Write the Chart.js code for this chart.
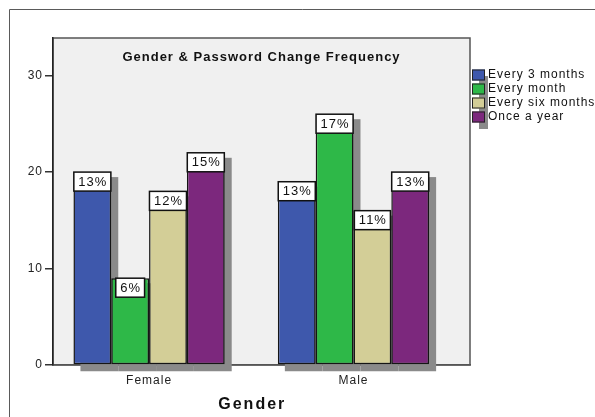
<!DOCTYPE html>
<html>
<head>
<meta charset="utf-8">
<script src="https://cdn.jsdelivr.net/npm/chart.js@4/dist/chart.umd.min.js"></script>
<style>
  html, body { margin: 0; padding: 0; background: #fff; }
  canvas { display: block; }
</style>
</head>
<body>
<canvas id="pwChart" width="595" height="417"></canvas>
<script>
(function () {
    // counts per gender for each answer
    var categories = ['Female', 'Male'];
    var seriesNames = ['Every 3 months', 'Every month', 'Every six months', 'Once a year'];
    var every3Months = [20, 19];
    var everyMonth = [9, 26];
    var everySixMonths = [18, 16];
    var onceAYear = [22, 20];
    var yTicks = [0, 10, 20, 30];
    var seriesColors = ['#3e58ac', '#2eb848', '#d3ce97', '#7c287d'];

    var seriesValues = [every3Months, everyMonth, everySixMonths, onceAYear];
    var grandTotal = 0;
    seriesValues.forEach(function (s) {
        s.forEach(function (v) { grandTotal += v; });
    });

    var FONT = '"Liberation Sans", Arial, sans-serif';
    var SHADOW = '#8a8a8a';

    Chart.defaults.font.family = FONT;
    Chart.defaults.font.size = 12;
    Chart.defaults.color = '#222';

    var datasets = seriesNames.map(function (name, i) {
        return {
            label: name,
            data: seriesValues[i].map(function (v, j) { return { x: j, y: v }; }),
            backgroundColor: seriesColors[i],
            borderColor: '#151515',
            borderWidth: 1.5,
            borderSkipped: false,
            barPercentage: 1,
            categoryPercentage: 0.74
        };
    });

    // plot panel, outer frame and letter spacing for all text
    var backdrop = {
        id: 'backdrop',
        beforeDraw: function (chart) {
            var ctx = chart.ctx;
            var a = chart.chartArea;
            ctx.letterSpacing = '1px';
            ctx.save();
            ctx.strokeStyle = '#5a5a5a';
            ctx.lineWidth = 1;
            ctx.beginPath();
            ctx.moveTo(9.5, 417);
            ctx.lineTo(9.5, 9.5);
            ctx.lineTo(595, 9.5);
            ctx.stroke();

            ctx.fillStyle = '#f0f0f0';
            ctx.fillRect(a.left, a.top, a.right - a.left, a.bottom - a.top);
            ctx.strokeStyle = '#555';
            ctx.lineWidth = 1.5;
            ctx.strokeRect(a.left, a.top, a.right - a.left, a.bottom - a.top);

            ctx.fillStyle = '#111';
            ctx.font = 'bold 13px ' + FONT;
            ctx.textAlign = 'center';
            ctx.textBaseline = 'middle';
            ctx.fillText('Gender & Password Change Frequency', (a.left + a.right) / 2, 57);
            ctx.restore();
        }
    };

    // drop shadows behind each bar
    var barShadows = {
        id: 'barShadows',
        beforeDatasetsDraw: function (chart) {
            var ctx = chart.ctx;
            ctx.save();
            ctx.fillStyle = SHADOW;
            chart.data.datasets.forEach(function (ds, i) {
                chart.getDatasetMeta(i).data.forEach(function (bar) {
                    var p = bar.getProps(['x', 'y', 'base', 'width'], true);
                    ctx.fillRect(p.x - p.width / 2 + 7, p.y + 5, p.width, p.base - p.y + 2);
                });
            });
            ctx.restore();
        }
    };

    // percent boxes sitting inside the top of each bar
    var percentBoxes = {
        id: 'percentBoxes',
        afterDatasetsDraw: function (chart) {
            var ctx = chart.ctx;
            ctx.save();
            ctx.font = '13px ' + FONT;
            ctx.textAlign = 'center';
            ctx.textBaseline = 'middle';
            chart.data.datasets.forEach(function (ds, i) {
                chart.getDatasetMeta(i).data.forEach(function (bar, j) {
                    var p = bar.getProps(['x', 'y'], true);
                    var txt = Math.round(seriesValues[i][j] / grandTotal * 100) + '%';
                    var w = ctx.measureText(txt).width + 8;
                    var h = 19;
                    ctx.fillStyle = '#fff';
                    ctx.fillRect(p.x - w / 2, p.y, w, h);
                    ctx.strokeStyle = '#111';
                    ctx.lineWidth = 1.5;
                    ctx.strokeRect(p.x - w / 2, p.y, w, h);
                    ctx.fillStyle = '#111';
                    ctx.fillText(txt, p.x + 0.5, p.y + h / 2 + 0.5);
                });
            });
            ctx.restore();
        }
    };

    // legend to the right of the plot, and the x axis title
    var sideLegend = {
        id: 'sideLegend',
        afterDraw: function (chart) {
            var ctx = chart.ctx;
            var x0 = 472, rowH = 14, firstY = 75, sq = 13;
            var n = chart.data.datasets.length;
            ctx.save();
            ctx.fillStyle = SHADOW;
            ctx.fillRect(x0 + 7, firstY - 5 + 6, 9, (n - 1) * rowH + 11);
            ctx.font = '12px ' + FONT;
            ctx.textBaseline = 'middle';
            ctx.textAlign = 'left';
            chart.data.datasets.forEach(function (ds, i) {
                var cy = firstY + i * rowH;
                ctx.fillStyle = ds.backgroundColor;
                ctx.fillRect(x0, cy - 5.5, sq, 11);
                ctx.strokeStyle = '#222';
                ctx.lineWidth = 1;
                ctx.strokeRect(x0 + 0.5, cy - 5, sq - 1, 10);
                ctx.fillStyle = '#111';
                ctx.fillText(ds.label, x0 + 16, cy);
            });

            var xs = chart.scales.x;
            ctx.font = 'bold 16px ' + FONT;
            ctx.letterSpacing = '2px';
            ctx.textAlign = 'center';
            ctx.fillStyle = '#111';
            ctx.fillText('Gender', xs.getPixelForValue(0.5) + 1, 405);
            ctx.restore();
        }
    };

    new Chart(document.getElementById('pwChart'), {
        type: 'bar',
        data: { datasets: datasets },
        plugins: [backdrop, barShadows, percentBoxes, sideLegend],
        options: {
            responsive: false,
            animation: false,
            layout: { padding: { left: 0, right: 125, top: 38, bottom: 0 } },
            plugins: {
                legend: { display: false },
                tooltip: { enabled: false }
            },
            scales: {
                x: {
                    type: 'linear',
                    offset: false,
                    min: -0.47,
                    max: 1.57,
                    afterFit: function (s) { s.height = 52; },
                    afterBuildTicks: function (s) {
                        s.ticks = categories.map(function (c, i) { return { value: i }; });
                    },
                    ticks: {
                        padding: 5,
                        color: '#222',
                        font: { size: 12 },
                        callback: function (v) { return categories[v]; }
                    },
                    grid: { offset: false, drawOnChartArea: false, drawTicks: true, tickLength: 3, color: '#555' },
                    border: { display: true, color: '#555', width: 1.5 }
                },
                y: {
                    min: 0,
                    max: 33.9,
                    afterFit: function (s) { s.width = 53; },
                    afterBuildTicks: function (s) {
                        s.ticks = yTicks.map(function (v) { return { value: v }; });
                    },
                    ticks: { padding: 2, color: '#222', font: { size: 12 } },
                    grid: { drawOnChartArea: false, drawTicks: true, tickLength: 8, color: '#333', lineWidth: 1.5 },
                    border: { display: true, color: '#222', width: 1.5 }
                }
            }
        }
    });
})();
</script>
</body>
</html>
